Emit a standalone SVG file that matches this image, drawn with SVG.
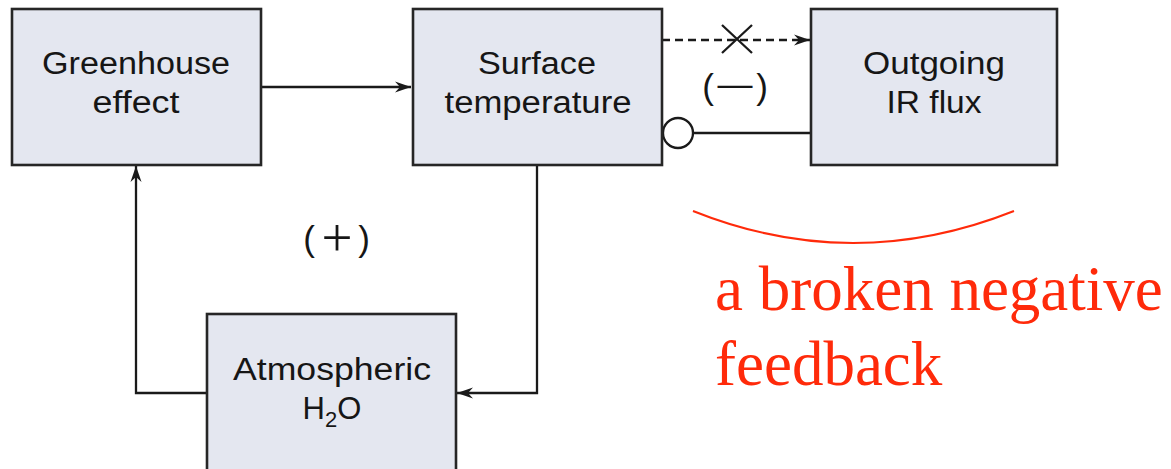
<svg xmlns="http://www.w3.org/2000/svg" width="1171" height="469" viewBox="0 0 1171 469">
<defs>
<style>
.box{fill:#e4e7f0;stroke:#262626;stroke-width:2.6}
.lbl{font-family:"Liberation Sans",Arial,sans-serif;font-size:31px;fill:#161616;text-anchor:middle}
.par{font-family:"Liberation Sans",Arial,sans-serif;font-size:35px;fill:#161616;text-anchor:middle}
.con{fill:none;stroke:#1a1a1a;stroke-width:2.3}
.red{font-family:"Liberation Serif","Times New Roman",serif;font-size:63px;fill:#ff2a0a}
</style>
<marker id="ah" markerUnits="userSpaceOnUse" markerWidth="20" markerHeight="14" viewBox="-16 -7 18 14" refX="0" refY="0" orient="auto">
<path d="M0,0 L-16,-5.5 L-11,0 L-16,5.5 Z" fill="#1a1a1a"/>
</marker>
</defs>
<rect width="1171" height="469" fill="#fff"/>
<g id="connectors">
<line class="con" x1="261" y1="87" x2="411" y2="87" marker-end="url(#ah)"/>
<line class="con" x1="662" y1="40" x2="810" y2="40" stroke-dasharray="8,5" marker-end="url(#ah)"/>
<path class="con" d="M722,25 L752,53 M752,25 L722,53"/>
<circle cx="678" cy="133" r="15" fill="#fff" stroke="#1a1a1a" stroke-width="2.3"/>
<line class="con" x1="693" y1="133" x2="811" y2="133"/>
<polyline class="con" points="537,165 537,393 457,393" marker-end="url(#ah)"/>
<polyline class="con" points="207,393 136,393 136,166" marker-end="url(#ah)"/>
<text class="par" y="99"><tspan x="708">(</tspan><tspan x="735" dy="-3">—</tspan><tspan x="762" dy="3">)</tspan></text>
<text class="par" y="251"><tspan x="309">(</tspan><tspan x="337" font-family="Liberation Serif, serif" font-size="55" dy="5">+</tspan><tspan x="364" dy="-5">)</tspan></text>
</g>
<g id="greenhouse">
<rect class="box" x="12" y="9" width="249" height="156"/>
<text class="lbl" x="136" y="74" textLength="188" lengthAdjust="spacingAndGlyphs">Greenhouse</text>
<text class="lbl" x="136" y="113" textLength="87" lengthAdjust="spacingAndGlyphs">effect</text>
</g>
<g id="surface">
<rect class="box" x="413" y="9" width="249" height="156"/>
<text class="lbl" x="537" y="74" textLength="118" lengthAdjust="spacingAndGlyphs">Surface</text>
<text class="lbl" x="538" y="113" textLength="187" lengthAdjust="spacingAndGlyphs">temperature</text>
</g>
<g id="outgoing">
<rect class="box" x="811" y="9" width="246" height="156"/>
<text class="lbl" x="934" y="74" textLength="142" lengthAdjust="spacingAndGlyphs">Outgoing</text>
<text class="lbl" x="934" y="113" textLength="95" lengthAdjust="spacingAndGlyphs">IR flux</text>
</g>
<g id="atmospheric">
<rect class="box" x="207" y="314" width="249" height="170"/>
<text class="lbl" x="332" y="380" textLength="198" lengthAdjust="spacingAndGlyphs">Atmospheric</text>
<text class="lbl" x="332" y="419" font-size="33">H<tspan font-size="22" dy="8">2</tspan><tspan dy="-8">O</tspan></text>
</g>
<g id="annotation">
<path d="M693,211 Q853,275 1014,211" fill="none" stroke="#ff2a0a" stroke-width="2"/>
<text class="red" x="715" y="310">a broken negative</text>
<text class="red" x="715" y="385">feedback</text>
</g>
</svg>
